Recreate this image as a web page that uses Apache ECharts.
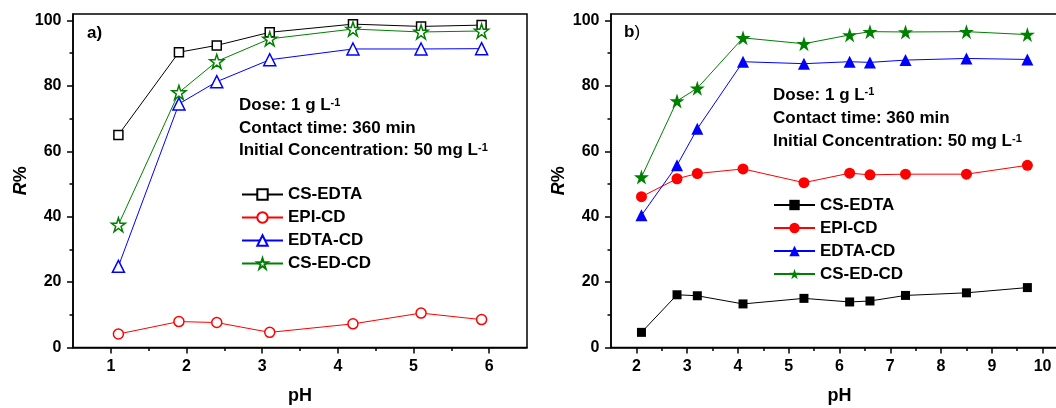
<!DOCTYPE html>
<html>
<head>
<meta charset="utf-8">
<script src="https://cdn.jsdelivr.net/npm/echarts@6/dist/echarts.min.js"></script>
<style>
  html, body { margin: 0; padding: 0; background: #fff; }
  #chart { width: 1056px; height: 408px; }
</style>
</head>
<body>
<div id="chart"></div>
<script>
// panel a)
var phA = [1.1, 1.9, 2.4, 3.1, 4.2, 5.1, 5.9];
var csEdtaA = [65.0, 90.3, 92.4, 96.4, 98.9, 98.2, 98.6];
var epiCdA = [4.1, 7.9, 7.6, 4.6, 7.2, 10.5, 8.5];
var edtaCdA = [24.8, 74.5, 81.3, 88.0, 91.3, 91.3, 91.4];
var csEdCdA = [37.5, 78.0, 87.5, 94.4, 97.4, 96.5, 96.8];

// panel b)
var phB = [2.1, 2.8, 3.2, 4.1, 5.3, 6.2, 6.6, 7.3, 8.5, 9.7];
var csEdtaB = [4.6, 16.1, 15.8, 13.3, 15.0, 13.9, 14.2, 15.9, 16.7, 18.3];
var epiCdB = [46.1, 51.6, 53.2, 54.6, 50.4, 53.3, 52.8, 53.0, 53.0, 55.7];
var edtaCdB = [40.4, 55.7, 66.9, 87.4, 86.8, 87.4, 87.2, 87.9, 88.4, 88.1];
var csEdCdB = [52.1, 75.4, 79.3, 94.7, 92.9, 95.6, 96.6, 96.5, 96.6, 95.7];

var names = ['CS-EDTA', 'EPI-CD', 'EDTA-CD', 'CS-ED-CD'];

// ticks
var xTicksA = [1, 2, 3, 4, 5, 6];
var xMinorA = [1.5, 2.5, 3.5, 4.5, 5.5];
var xTicksB = [2, 3, 4, 5, 6, 7, 8, 9, 10];
var xMinorB = [2.5, 3.5, 4.5, 5.5, 6.5, 7.5, 8.5, 9.5];
var yTicks = [0, 20, 40, 60, 80, 100];
var yMinor = [10, 30, 50, 70, 90];

var FONT = 'Liberation Sans, Arial, sans-serif';
var colors = ['#000000', '#ff0000', '#0000ff', '#008000'];
var star = 'path://M50,2 L61.8,37.6 L99,37.6 L68.8,59.6 L80.4,95.1 L50,73.1 L19.6,95.1 L31.2,59.6 L1,37.6 L38.2,37.6 Z';
var symbols = ['rect', 'circle', 'triangle', star];
var sizesA = [9, 10, 12, 14];
var sizesB = [9, 11, 12, 15];
var tagB = ' (b)';

function pairs(xs, ys) {
  return xs.map(function (x, i) { return [x, ys[i]]; });
}

function mkSeries(name, xs, ys, idx, k, size, hollow) {
  return {
    name: name,
    type: 'line',
    xAxisIndex: idx,
    yAxisIndex: idx,
    data: pairs(xs, ys),
    symbol: symbols[k],
    symbolSize: size,
    lineStyle: { color: colors[k], width: 1 },
    itemStyle: hollow
      ? { color: '#ffffff', borderColor: colors[k], borderWidth: 1.5 }
      : { color: colors[k], borderColor: colors[k], borderWidth: 0 },
    emphasis: { disabled: true },
    z: 3
  };
}

var labelStyle = { color: '#000', fontSize: 16, fontWeight: 'bold', fontFamily: FONT };
var tickLine = { color: '#000', width: 1.5 };

function xAxes(grid, min, max, ticks, minor) {
  return [{
    type: 'value', gridIndex: grid, min: min, max: max, position: 'bottom',
    axisLine: { show: true, onZero: false, lineStyle: tickLine },
    axisTick: { show: true, customValues: ticks, length: 6, lineStyle: tickLine },
    axisLabel: Object.assign({ customValues: ticks, margin: 11 }, labelStyle),
    splitLine: { show: false },
    name: 'pH', nameLocation: 'middle', nameGap: 40,
    nameTextStyle: { color: '#000', fontSize: 18, fontWeight: 'bold', fontFamily: FONT }
  }, {
    type: 'value', gridIndex: grid, min: min, max: max, position: 'bottom',
    axisLine: { show: false },
    axisTick: { show: true, customValues: minor, length: 3.5, lineStyle: tickLine },
    axisLabel: { show: false },
    splitLine: { show: false }
  }];
}

function yAxes(grid) {
  return [{
    type: 'value', gridIndex: grid, min: 0, max: 102, position: 'left',
    axisLine: { show: true, onZero: false, lineStyle: tickLine },
    axisTick: { show: true, customValues: yTicks, length: 6, lineStyle: tickLine },
    axisLabel: Object.assign({ customValues: yTicks, margin: 11.5 }, labelStyle),
    splitLine: { show: false },
    name: '{i|R}%', nameLocation: 'middle', nameGap: 43,
    nameTextStyle: {
      color: '#000', fontSize: 18, fontWeight: 'bold', fontFamily: FONT,
      rich: { i: { fontStyle: 'italic', fontWeight: 'bold', fontSize: 18, fontFamily: FONT, color: '#000' } }
    }
  }, {
    type: 'value', gridIndex: grid, min: 0, max: 102, position: 'left',
    axisLine: { show: false },
    axisTick: { show: true, customValues: yMinor, length: 3.5, lineStyle: tickLine },
    axisLabel: { show: false },
    splitLine: { show: false }
  }];
}

function note(x, y, main, sup) {
  return {
    type: 'text', x: x, y: y, silent: true,
    style: {
      text: sup ? main + '{s|' + sup + '}' : main,
      fill: '#000', fontSize: 17, fontWeight: 'bold', fontFamily: FONT,
      verticalAlign: 'middle', align: 'left',
      rich: { s: { fontSize: 11, fontWeight: 'bold', fontFamily: FONT, fill: '#000', verticalAlign: 'top' } }
    }
  };
}

function legend(left, top, data) {
  return {
    orient: 'vertical', left: left, top: top, padding: 0,
    itemWidth: 41, itemHeight: 13, itemGap: 6,
    selectedMode: false, data: data,
    formatter: function (n) { return n.replace(tagB, ''); },
    textStyle: { color: '#000', fontSize: 17, fontWeight: 'bold', fontFamily: FONT }
  };
}

var namesB = names.map(function (n) { return n + tagB; });
var seriesA = [csEdtaA, epiCdA, edtaCdA, csEdCdA];
var seriesB = [csEdtaB, epiCdB, edtaCdB, csEdCdB];

var series = [];
names.forEach(function (n, k) { series.push(mkSeries(n, phA, seriesA[k], 0, k, sizesA[k], true)); });
namesB.forEach(function (n, k) { series.push(mkSeries(n, phB, seriesB[k], 2, k, sizesB[k], false)); });

var chart = echarts.init(document.getElementById('chart'));
chart.setOption({
  animation: false,
  backgroundColor: '#fff',
  grid: [
    { left: 73, right: 529, top: 14, bottom: 60.6, show: true, borderColor: '#000', borderWidth: 1.5, outerBoundsMode: 'none' },
    { left: 611, right: -12, top: 14, bottom: 60.6, show: true, borderColor: '#000', borderWidth: 1.5, outerBoundsMode: 'none' }
  ],
  xAxis: xAxes(0, 0.5, 6.5, xTicksA, xMinorA).concat(xAxes(1, 1.5, 10.5, xTicksB, xMinorB)),
  yAxis: yAxes(0).concat(yAxes(1)),
  legend: [legend(241, 186, names), legend(773, 196.5, namesB)],
  graphic: [
    { type: 'text', x: 87, y: 33, silent: true,
      style: { text: 'a)', fill: '#000', fontSize: 17, fontWeight: 'bold', fontFamily: FONT, verticalAlign: 'middle' } },
    { type: 'text', x: 624, y: 32, silent: true,
      style: { text: 'b{n|)}', fill: '#000', fontSize: 17, fontWeight: 'bold', fontFamily: FONT, verticalAlign: 'middle',
        rich: { n: { fontSize: 17, fontWeight: 'normal', fontFamily: FONT, fill: '#000' } } } },
    note(239, 105.5, 'Dose: 1 g L', '-1'),
    note(239, 128, 'Contact time: 360 min'),
    note(239, 150.5, 'Initial Concentration: 50 mg L', '-1'),
    note(773, 95, 'Dose: 1 g L', '-1'),
    note(773, 118, 'Contact time: 360 min'),
    note(773, 141.5, 'Initial Concentration: 50 mg L', '-1')
  ],
  series: series
});
</script>
</body>
</html>
